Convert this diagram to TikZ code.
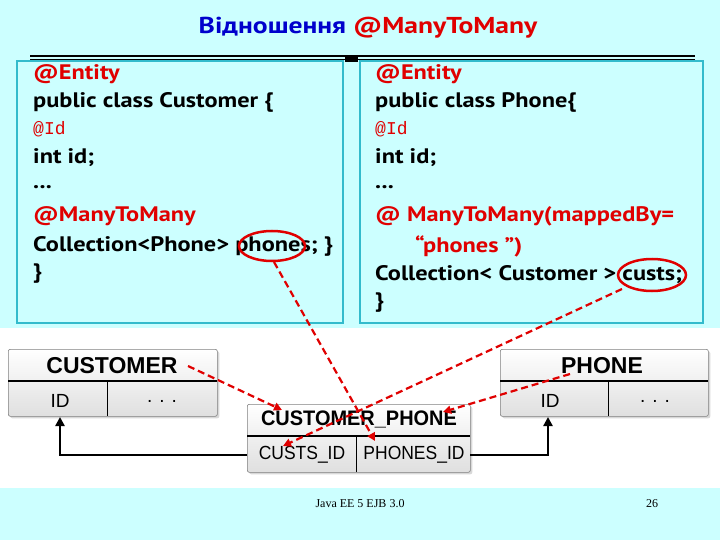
\documentclass[tikz,border=0pt]{standalone}
\usepackage{fontspec}
\setmainfont{PT Sans}
\newfontfamily\codemono{Liberation Mono}
\newfontfamily\tmsfont{Liberation Serif}
\newfontfamily\tblfont{Liberation Sans}
\usetikzlibrary{arrows.meta,shadows}
\definecolor{bgc}{HTML}{CCFFFF}
\definecolor{boxc}{HTML}{33BBCC}
\definecolor{redc}{HTML}{E00000}
\definecolor{bluec}{HTML}{0000CC}
\newcommand{\sx}[1]{\scalebox{1.16}[1]{#1}}
\newcommand{\tx}[1]{\scalebox{1.0}[1]{#1}}
\begin{document}
\begin{tikzpicture}[x=1pt,y=-1pt,
  code/.style={anchor=west,font=\bfseries\fontsize{21}{21}\selectfont,inner sep=0},
  redtxt/.style={text=redc},
  tbl/.style={draw=gray,line width=0.6pt,rounded corners=2pt,top color=white,bottom color=gray!25,drop shadow={opacity=0.3,shadow xshift=2pt,shadow yshift=-2pt}},
  ttext/.style={font=\tblfont\bfseries\fontsize{23}{23}\selectfont},
  ctext/.style={font=\tblfont\fontsize{19}{19}\selectfont},
  reddash/.style={draw=redc,line width=2.2pt,dash pattern=on 7pt off 4pt,-{Triangle[length=8pt,width=8pt]}},
  blk/.style={draw=black,line width=2.5pt,-{Triangle[length=9pt,width=9pt]}}]
\useasboundingbox (0,0) rectangle (720,540);
\fill[bgc] (0,0) rectangle (720,540);
\fill[white] (0,328) rectangle (720,488);
\node[font=\bfseries\fontsize{23}{23}\selectfont] (title) at (368,28) {\scalebox{1.2}[1]{\textcolor{bluec}{Відношення} \textcolor{redc}{@ManyToMany}}};
\draw[line width=1.2pt] (30,56) -- (695,56);
\draw[line width=1.2pt] (30,59.5) -- (695,59.5);
\fill (345,56) rectangle (358,62);
\draw[boxc,line width=1.5pt] (17,61) rectangle (343,323);
\draw[boxc,line width=1.5pt] (360,61) rectangle (703,323);
% left code
\node[code,redtxt] (l1) at (33,74) {\sx{@Entity}};
\node[code] (l2) at (33,102) {\sx{public class Customer \{}};
\node[code,redtxt,font=\codemono\fontsize{18}{18}\selectfont] (l3) at (33,129) {@Id};
\node[code] (l4) at (33,158) {\sx{int id;}};
\node[code] (l5) at (33,187) {\sx{...}};
\node[code,redtxt] (l6) at (33,216) {\sx{@ManyToMany}};
\node[code] (l7) at (33,246) {\sx{Collection<Phone> phones; \}}};
\node[code] (l8) at (33,274) {\sx{\}}};
% right code
\node[code,redtxt] (r1) at (375,74) {\sx{@Entity}};
\node[code] (r2) at (375,102) {\sx{public class Phone\{}};
\node[code,redtxt,font=\codemono\fontsize{18}{18}\selectfont] (r3) at (375,129) {@Id};
\node[code] (r4) at (375,158) {\sx{int id;}};
\node[code] (r5) at (375,187) {\sx{...}};
\node[code,redtxt] (r6) at (375,216) {\sx{@ ManyToMany(mappedBy=}};
\node[code,redtxt] (r7) at (415,246) {\sx{“phones ”)}};
\node[code] (r8) at (375,275) {\sx{Collection< Customer > custs;}};
\node[code] (r9) at (375,303) {\sx{\}}};
% ellipses
\draw[redc,line width=2.5pt] (272,246) ellipse (33 and 15);
\draw[redc,line width=2.5pt] (652,275) ellipse (34 and 16);
\coordinate (eph) at (274,262);
\coordinate (ecu) at (622,289);
% tables
\node[tbl,minimum width=209,minimum height=67,anchor=north west] (cust) at (8,349) {};
\draw[line width=2pt] (8,381) -- (217,381);
\draw[line width=0.7pt] (107,381) -- (107,416);
\node[ttext] (custh) at (112,366) {\tx{CUSTOMER}};
\node[ctext] (custid) at (60,401) {ID};
\node[ctext] at (162,401) {. . .};
\node[tbl,minimum width=208,minimum height=67,anchor=north west] (phone) at (500,349) {};
\draw[line width=2pt] (500,381) -- (708,381);
\draw[line width=0.7pt] (608,381) -- (608,416);
\node[ttext] (phoneh) at (602,366) {\tx{PHONE}};
\node[ctext] (phoneid) at (550,401) {ID};
\node[ctext] at (655,401) {. . .};
\node[tbl,minimum width=223,minimum height=68,anchor=north west] (cp) at (247,404) {};
\draw[line width=2pt] (247,436) -- (470,436);
\draw[line width=0.7pt] (356,436) -- (356,472);
\node[ttext,font=\tblfont\bfseries\fontsize{21}{21}\selectfont] (cph) at (359,419) {\scalebox{0.95}[1]{CUSTOMER\_PHONE}};
\node[ctext] (cid) at (302,455) {\scalebox{0.92}[1]{CUSTS\_ID}};
\node[ctext] (pid) at (414,455) {\scalebox{0.92}[1]{PHONES\_ID}};
% black arrows
\coordinate (cpl) at (247,455);
\coordinate (cpr) at (470,455);
\draw[blk] (cpl) -- (60,455) -- (60,417);
\draw[blk] (cpr) -- (548,455) -- (548,417);
% red dashed arrows
\draw[reddash] (188,366) -- (282,410);
\draw[reddash] (eph) -- (375,441);
\draw[reddash] (ecu) -- (283,446);
\draw[reddash] (570,374) -- (443,412);
% footer
\node[font=\tmsfont\fontsize{12}{12}\selectfont] (ft) at (360,504) {Java EE 5 EJB 3.0};
\node[font=\tmsfont\fontsize{12}{12}\selectfont] (pg) at (652,504) {26};
\end{tikzpicture}
\end{document}
